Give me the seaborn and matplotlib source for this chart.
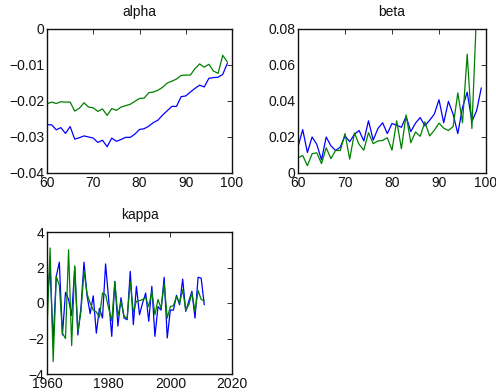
import numpy as np
import seaborn as sns
import matplotlib.pyplot as plt

# ages 60..99 for alpha / beta, years 1960..2011 for kappa
ages = list(range(60, 100))
years = list(range(1960, 2012))

alpha_blue = [-0.0266, -0.0266, -0.0280, -0.0274, -0.0290, -0.0271, -0.0306, -0.0302, -0.0297, -0.0300,
              -0.0303, -0.0315, -0.0309, -0.0327, -0.0303, -0.0312, -0.0307, -0.0301, -0.0301, -0.0292,
              -0.0279, -0.0277, -0.0270, -0.0260, -0.0253, -0.0239, -0.0227, -0.0215, -0.0215, -0.0188,
              -0.0186, -0.0175, -0.0165, -0.0156, -0.0161, -0.0137, -0.0135, -0.0134, -0.0126, -0.0095]
alpha_green = [-0.0208, -0.0203, -0.0207, -0.0202, -0.0203, -0.0203, -0.0228, -0.0220, -0.0205, -0.0217,
               -0.0219, -0.0229, -0.0222, -0.0240, -0.0221, -0.0226, -0.0217, -0.0213, -0.0209, -0.0201,
               -0.0193, -0.0192, -0.0177, -0.0175, -0.0170, -0.0162, -0.0150, -0.0145, -0.0139, -0.0129,
               -0.0128, -0.0128, -0.0110, -0.0097, -0.0106, -0.0098, -0.0117, -0.0123, -0.0073, -0.0092]

beta_blue = [0.0146, 0.0241, 0.0114, 0.0200, 0.0159, 0.0073, 0.0200, 0.0151, 0.0125, 0.0144,
             0.0206, 0.0174, 0.0215, 0.0236, 0.0178, 0.0290, 0.0183, 0.0247, 0.0279, 0.0219,
             0.0275, 0.0265, 0.0254, 0.0314, 0.0230, 0.0277, 0.0308, 0.0262, 0.0293, 0.0327,
             0.0407, 0.0279, 0.0398, 0.0327, 0.0219, 0.0364, 0.0449, 0.0286, 0.0346, 0.0473]
beta_green = [0.0084, 0.0097, 0.0041, 0.0107, 0.0112, 0.0052, 0.0140, 0.0080, 0.0125, 0.0125,
              0.0219, 0.0077, 0.0222, 0.0159, 0.0127, 0.0224, 0.0163, 0.0178, 0.0181, 0.0196,
              0.0127, 0.0290, 0.0135, 0.0323, 0.0168, 0.0228, 0.0204, 0.0284, 0.0206, 0.0237,
              0.0277, 0.0249, 0.0236, 0.0258, 0.0445, 0.0279, 0.0660, 0.0247, 0.0900, 0.1100]

kappa_blue = [0.0, 2.0, -2.2, 1.5, 2.3, -1.8, 0.6, 0.2, -0.7, 2.0,
              -1.8, -0.3, 2.3, 0.4, -0.6, 0.4, -1.7, -0.3, -0.85, 2.2,
              0.2, -1.88, 1.22, -1.3, 0.3, -0.85, -0.94, 1.78, -1.22, 0.94,
              -0.66, 0.0, 0.56, -1.03, 0.94, -1.88, -0.2, -0.4, 1.45, -1.97,
              -0.4, -0.4, 0.43, -0.1, 1.35, -0.47, 0.1, 0.66, -0.85, 1.45,
              1.4, -0.1]
kappa_green = [-1.5, 3.1, -3.3, 1.5, 1.0, -1.7, -2.0, 3.0, -2.4, 2.1,
               -1.6, -0.5, 1.8, 0.5, 0.0, -0.4, -0.5, -0.8, 0.56, 0.47,
               -0.3, -1.0, 1.2, -0.75, 0.1, -0.75, -0.85, 1.2, -0.5, 0.1,
               0.13, 0.2, 0.3, -0.2, 0.66, -0.66, 0.2, -0.3, 1.1, -0.85,
               -0.2, -0.15, 0.37, 0.0, 0.75, -0.4, -0.1, 0.56, -0.47, 0.7,
               0.2, 0.13]

sns.set_theme(style="white")
plt.rcParams["font.family"] = ["Liberation Sans", "DejaVu Sans"]
plt.rcParams["axes.unicode_minus"] = True

BLUE = "#0000ff"
GREEN = "#008000"

fig = plt.figure(figsize=(4.96, 3.92), dpi=100)
W, H = 496, 392


def box(l, t, r, b):
    return fig.add_axes([l / W, 1 - b / H, (r - l) / W, (b - t) / H])


def style(ax, title, xlim, ylim, xticks, yticks, ylabels=None):
    ax.set_xlim(*xlim)
    ax.set_ylim(*ylim)
    ax.set_xticks(xticks)
    ax.set_yticks(yticks)
    if ylabels is not None:
        ax.set_yticklabels(ylabels)
    ax.set_title(title, fontsize=10, color="#111111", pad=9.5)
    ax.set_xlabel("")
    ax.set_ylabel("")
    ax.tick_params(direction="in", length=3.5, width=0.6, top=True, right=True,
                   labelsize=10, colors="#111111", pad=2)
    for sp in ax.spines.values():
        sp.set_color("#111111")
        sp.set_linewidth(1.0)
    ax.grid(False)


ax1 = box(47, 29, 232, 173)
sns.lineplot(x=ages, y=alpha_blue, ax=ax1, color=BLUE, lw=0.9)
sns.lineplot(x=ages, y=alpha_green, ax=ax1, color=GREEN, lw=0.9)
style(ax1, "alpha", (60, 100), (-0.04, 0), [60, 70, 80, 90, 100],
      [-0.04, -0.03, -0.02, -0.01, 0],
      ["\u22120.04", "\u22120.03", "\u22120.02", "\u22120.01", "0"])

ax2 = box(298, 29, 486, 173)
sns.lineplot(x=ages, y=beta_blue, ax=ax2, color=BLUE, lw=0.9)
sns.lineplot(x=ages, y=beta_green, ax=ax2, color=GREEN, lw=0.9)
style(ax2, "beta", (60, 100), (0, 0.08), [60, 70, 80, 90, 100],
      [0, 0.02, 0.04, 0.06, 0.08], ["0", "0.02", "0.04", "0.06", "0.08"])

ax3 = box(47, 232, 232, 374)
sns.lineplot(x=years, y=kappa_blue, ax=ax3, color=BLUE, lw=0.9)
sns.lineplot(x=years, y=kappa_green, ax=ax3, color=GREEN, lw=0.9)
style(ax3, "kappa", (1960, 2020), (-4, 4), [1960, 1980, 2000, 2020],
      [-4, -2, 0, 2, 4], ["\u22124", "\u22122", "0", "2", "4"])

fig.savefig("out.png", dpi=100)
